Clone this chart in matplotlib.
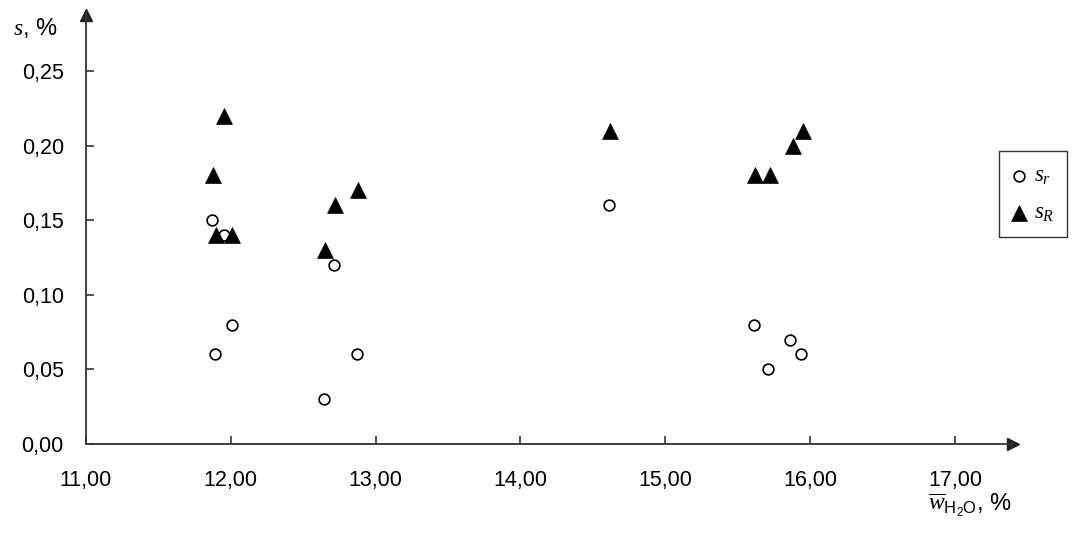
import matplotlib
matplotlib.use("Agg")
import matplotlib.pyplot as plt
from matplotlib.ticker import FixedLocator

# Data
sr_x = [11.87, 11.89, 11.95, 12.01, 12.64, 12.71, 12.87, 14.61, 15.61, 15.71, 15.86, 15.94]
sr_y = [0.15, 0.06, 0.14, 0.08, 0.03, 0.12, 0.06, 0.16, 0.08, 0.05, 0.07, 0.06]
sR_x = [11.88, 11.95, 11.90, 12.01, 12.65, 12.72, 12.88, 14.62, 15.62, 15.72, 15.88, 15.95]
sR_y = [0.18, 0.22, 0.14, 0.14, 0.13, 0.16, 0.17, 0.21, 0.18, 0.18, 0.20, 0.21]
x_ticks = [11, 12, 13, 14, 15, 16, 17]
x_tick_labels = ["11,00", "12,00", "13,00", "14,00", "15,00", "16,00", "17,00"]
y_ticks = [0.00, 0.05, 0.10, 0.15, 0.20, 0.25]
y_tick_labels = ["0,00", "0,05", "0,10", "0,15", "0,20", "0,25"]

fam = 'Liberation Sans'
fs = 15.5

plt.rcParams['font.family'] = [fam, 'DejaVu Sans']
plt.rcParams['mathtext.fontset'] = 'custom'
plt.rcParams['mathtext.it'] = 'Liberation Serif:italic'
plt.rcParams['mathtext.rm'] = fam

fig = plt.figure(figsize=(10.74, 5.33), dpi=100)
ax = fig.add_axes([86/1074, 1 - 444/533, (1013 - 86)/1074, (444 - 15)/533])

xmin, xmax = 11.0, 11.0 + (1013 - 86) / ((955 - 86) / 6.0)
ymin, ymax = 0.0, (444 - 15) / ((444 - 71) / 0.25)
ax.set_xlim(xmin, xmax)
ax.set_ylim(ymin, ymax)

ax.scatter(sr_x, sr_y, marker='o', s=60, facecolors='white', edgecolors='black', linewidths=1.2, zorder=3, label=r'$s_r$')
ax.scatter(sR_x, sR_y, marker='^', s=130, facecolors='black', edgecolors='black', linewidths=0.5, zorder=3, label=r'$s_R$')

for sp in ['top', 'right']:
    ax.spines[sp].set_visible(False)
for sp in ['left', 'bottom']:
    ax.spines[sp].set_color('#333333')
    ax.spines[sp].set_linewidth(1.3)

ax.xaxis.set_major_locator(FixedLocator(x_ticks))
ax.set_xticklabels(x_tick_labels)
ax.yaxis.set_major_locator(FixedLocator(y_ticks))
ax.set_yticklabels(y_tick_labels)
ax.tick_params(direction='in', length=6, width=1.2, color='#333333', labelsize=fs)
ax.tick_params(axis='x', pad=19)
ax.tick_params(axis='y', pad=16)

# arrows
ax.plot(1, 0, '>', color='#222222', markersize=9, transform=ax.transAxes, clip_on=False)
ax.plot(0, 1, '^', color='#222222', markersize=9, transform=ax.transAxes, clip_on=False)

fig.text(13/1074, 1 - 28/533, r'$s$, %', fontsize=fs + 1.5, ha='left', va='center')
fig.text(1012/1074, 1 - 505/533, r'$\overline{w}_{\mathrm{H_2O}}$, %', fontsize=fs + 1.5, ha='right', va='center')

leg = ax.legend(loc='center', bbox_to_anchor=(1033/1074, 1 - 194/533), bbox_transform=fig.transFigure,
                frameon=True, fancybox=False, fontsize=fs + 1, handletextpad=0.3, borderpad=0.55,
                labelspacing=0.6, handlelength=0.7, borderaxespad=0)
leg.get_frame().set_edgecolor('black')
leg.get_frame().set_linewidth(1.0)

fig.savefig('out.png', dpi=100)
